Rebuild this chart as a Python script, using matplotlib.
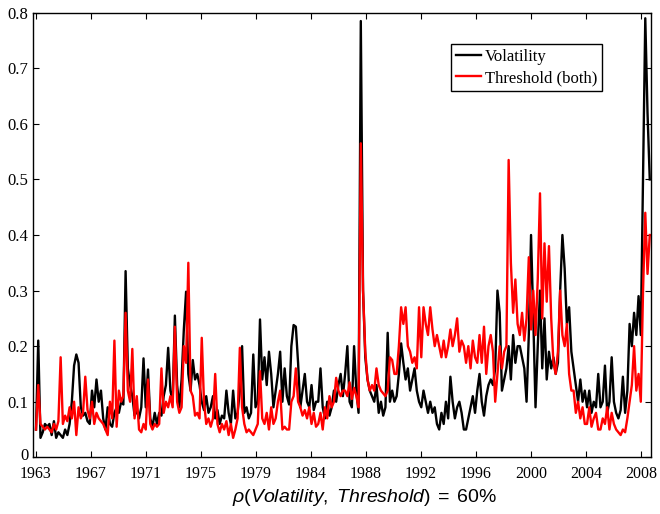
import numpy as np
import matplotlib
matplotlib.use("Agg")
import matplotlib.pyplot as plt
from matplotlib.transforms import ScaledTranslation

plt.rcParams['mathtext.fontset'] = 'custom'
plt.rcParams['mathtext.rm'] = 'Liberation Sans'
plt.rcParams['mathtext.it'] = 'Liberation Sans:italic'
plt.rcParams['mathtext.bf'] = 'Liberation Sans:bold'

# Bi-monthly samples, 6 per year starting 1963
volatility = [
    0.05, 0.21, 0.035, 0.045, 0.06, 0.055,      # 1963
    0.06, 0.04, 0.065, 0.035, 0.045, 0.04,      # 1964
    0.035, 0.05, 0.04, 0.06, 0.1, 0.165,        # 1965
    0.185, 0.17, 0.09, 0.075, 0.08, 0.065,      # 1966
    0.06, 0.12, 0.09, 0.14, 0.1, 0.12,          # 1967
    0.07, 0.05, 0.09, 0.06, 0.055, 0.08,        # 1968
    0.09, 0.08, 0.1, 0.095, 0.335, 0.16,        # 1969
    0.13, 0.11, 0.075, 0.085, 0.07, 0.09,       # 1970
    0.178, 0.09, 0.158, 0.07, 0.055, 0.08,      # 1971
    0.06, 0.08, 0.075, 0.11, 0.13, 0.197,       # 1972
    0.12, 0.1, 0.255, 0.13, 0.09, 0.14,         # 1973
    0.23, 0.298, 0.15, 0.12, 0.175, 0.14,       # 1974
    0.15, 0.13, 0.1, 0.085, 0.11, 0.08,         # 1975
    0.09, 0.11, 0.07, 0.085, 0.06, 0.075,       # 1976
    0.07, 0.12, 0.08, 0.06, 0.12, 0.07,         # 1977
    0.08, 0.12, 0.2, 0.08, 0.09, 0.07,          # 1978
    0.08, 0.185, 0.09, 0.1, 0.248, 0.14,        # 1979
    0.18, 0.13, 0.19, 0.15, 0.09, 0.12,         # 1980
    0.15, 0.19, 0.1, 0.16, 0.11, 0.095,         # 1981
    0.2, 0.238, 0.235, 0.17, 0.09, 0.12,        # 1982
    0.15, 0.1, 0.09, 0.13, 0.085, 0.1,          # 1983
    0.1, 0.16, 0.09, 0.07, 0.1, 0.075,          # 1984
    0.09, 0.12, 0.1, 0.13, 0.15, 0.11,          # 1985
    0.15, 0.2, 0.1, 0.09, 0.2, 0.12,            # 1986
    0.08, 0.785, 0.3, 0.18, 0.14, 0.12,         # 1987
    0.11, 0.1, 0.13, 0.08, 0.1, 0.075,          # 1988
    0.09, 0.224, 0.1, 0.12, 0.1, 0.11,          # 1989
    0.15, 0.205, 0.17, 0.14, 0.16, 0.12,        # 1990
    0.14, 0.16, 0.12, 0.1, 0.09, 0.12,          # 1991
    0.1, 0.08, 0.1, 0.08, 0.09, 0.06,           # 1992
    0.05, 0.08, 0.06, 0.1, 0.07, 0.145,         # 1993
    0.1, 0.07, 0.09, 0.1, 0.08, 0.05,           # 1994
    0.05, 0.07, 0.09, 0.11, 0.08, 0.12,         # 1995
    0.15, 0.1, 0.075, 0.11, 0.13, 0.14,         # 1996
    0.13, 0.16, 0.3, 0.26, 0.12, 0.14,          # 1997
    0.16, 0.2, 0.14, 0.22, 0.17, 0.2,           # 1998
    0.2, 0.18, 0.16, 0.1, 0.22, 0.4,            # 1999
    0.25, 0.09, 0.2, 0.3, 0.16, 0.25,           # 2000
    0.14, 0.19, 0.16, 0.18, 0.15, 0.17,         # 2001
    0.3, 0.4, 0.34, 0.24, 0.27, 0.19,           # 2002
    0.16, 0.13, 0.1, 0.14, 0.1, 0.12,           # 2003
    0.09, 0.12, 0.08, 0.1, 0.09, 0.15,          # 2004
    0.09, 0.1, 0.165, 0.08, 0.1, 0.18,          # 2005
    0.1, 0.08, 0.07, 0.085, 0.145, 0.08,        # 2006
    0.12, 0.24, 0.2, 0.26, 0.22, 0.29,          # 2007
    0.22, 0.5, 0.79, 0.62, 0.5,                 # 2008
]

threshold = [
    0.05, 0.13, 0.06, 0.055, 0.05, 0.055,       # 1963
    0.05, 0.045, 0.06, 0.05, 0.065, 0.18,       # 1964
    0.06, 0.075, 0.065, 0.09, 0.07, 0.1,        # 1965
    0.04, 0.09, 0.07, 0.08, 0.145, 0.085,       # 1966
    0.07, 0.1, 0.06, 0.08, 0.07, 0.065,         # 1967
    0.06, 0.05, 0.04, 0.1, 0.07, 0.21,          # 1968
    0.055, 0.12, 0.1, 0.11, 0.26, 0.12,         # 1969
    0.1, 0.195, 0.07, 0.11, 0.05, 0.045,        # 1970
    0.06, 0.05, 0.14, 0.06, 0.05, 0.06,         # 1971
    0.055, 0.06, 0.16, 0.08, 0.1, 0.09,         # 1972
    0.11, 0.09, 0.235, 0.1, 0.08, 0.09,         # 1973
    0.2, 0.17, 0.35, 0.12, 0.11, 0.075,         # 1974
    0.08, 0.07, 0.215, 0.1, 0.06, 0.07,         # 1975
    0.055, 0.07, 0.15, 0.06, 0.045, 0.06,       # 1976
    0.05, 0.065, 0.04, 0.06, 0.035, 0.05,       # 1977
    0.07, 0.197, 0.09, 0.06, 0.045, 0.05,       # 1978
    0.045, 0.04, 0.05, 0.06, 0.155, 0.07,       # 1979
    0.06, 0.08, 0.05, 0.09, 0.06, 0.07,         # 1980
    0.1, 0.12, 0.05, 0.055, 0.05, 0.05,         # 1981
    0.1, 0.11, 0.16, 0.1, 0.09, 0.075,          # 1982
    0.085, 0.07, 0.09, 0.06, 0.08, 0.055,       # 1983
    0.06, 0.08, 0.05, 0.09, 0.07, 0.11,         # 1984
    0.09, 0.1, 0.143, 0.12, 0.11, 0.12,         # 1985
    0.12, 0.11, 0.135, 0.105, 0.125, 0.11,      # 1986
    0.09, 0.565, 0.3, 0.19, 0.14, 0.12,         # 1987
    0.13, 0.12, 0.16, 0.13, 0.12, 0.115,        # 1988
    0.11, 0.12, 0.18, 0.175, 0.15, 0.15,        # 1989
    0.2, 0.27, 0.24, 0.27, 0.2, 0.19,           # 1990
    0.17, 0.18, 0.16, 0.27, 0.18, 0.27,         # 1991
    0.24, 0.22, 0.27, 0.23, 0.2, 0.22,          # 1992
    0.2, 0.18, 0.21, 0.18, 0.2, 0.23,           # 1993
    0.2, 0.22, 0.25, 0.19, 0.21, 0.2,           # 1994
    0.17, 0.2, 0.16, 0.21, 0.18, 0.17,          # 1995
    0.22, 0.17, 0.235, 0.15, 0.2, 0.22,         # 1996
    0.19, 0.1, 0.15, 0.2, 0.16, 0.19,           # 1997
    0.2, 0.535, 0.35, 0.26, 0.32, 0.24,         # 1998
    0.22, 0.26, 0.21, 0.25, 0.36, 0.23,         # 1999
    0.3, 0.22, 0.32, 0.475, 0.25, 0.385,        # 2000
    0.28, 0.38, 0.25, 0.17, 0.15, 0.19,         # 2001
    0.3, 0.22, 0.2, 0.24, 0.15, 0.12,           # 2002
    0.12, 0.08, 0.1, 0.07, 0.09, 0.06,          # 2003
    0.06, 0.09, 0.055, 0.07, 0.08, 0.05,        # 2004
    0.05, 0.07, 0.06, 0.09, 0.05, 0.08,         # 2005
    0.06, 0.05, 0.045, 0.04, 0.05, 0.045,       # 2006
    0.07, 0.1, 0.13, 0.2, 0.12, 0.15,           # 2007
    0.1, 0.3, 0.44, 0.33, 0.4,                  # 2008
]

tick_labels = ['1963', '1967', '1971', '1975', '1979', '1984',
               '1988', '1992', '1996', '2000', '2004', '2008']
ytick_vals = [0, 0.1, 0.2, 0.3, 0.4, 0.5, 0.6, 0.7, 0.8]
ytick_labels = ['0', '0.1', '0.2', '0.3', '0.4', '0.5', '0.6', '0.7', '0.8']

t = 1963 + np.arange(len(volatility)) / 6.0
tick_pos = 1963 + np.arange(len(tick_labels)) * 45.0 / 11.0

W, H = 660, 514
fig = plt.figure(figsize=(W / 100, H / 100), dpi=100)
left_px, right_px, top_px, bottom_px = 32.5, 650.7, 12.7, 457.3
ax = fig.add_axes([left_px / W, 1 - bottom_px / H,
                   (right_px - left_px) / W, (bottom_px - top_px) / H])

ax.plot(t, volatility, color='black', lw=1.7, label='Volatility')
ax.plot(t, threshold, color='#ff0000', lw=1.7, label='Threshold (both)')

px_per_year = 13.44
ax.set_xlim(1963 + (left_px - 36) / px_per_year, 1963 + (right_px - 36) / px_per_year)
ax.set_ylim(0, 0.8)

serif = 'Liberation Serif'
ax.set_xticks(tick_pos)
ax.set_xticklabels(tick_labels, fontfamily=serif, fontsize=11.5)
ax.set_yticks(ytick_vals)
ax.set_yticklabels(ytick_labels, fontfamily=serif, fontsize=12)
ax.tick_params(axis='both', direction='in', top=True, right=True, length=4, width=0.8)
ax.tick_params(axis='x', pad=6, colors='black')
ax.tick_params(axis='y', pad=3)
for s in ax.spines.values():
    s.set_linewidth(1.0)
    s.set_color('black')

# lift the "0" label slightly so it does not collide with the first year label
zero_lbl = ax.get_yticklabels()[0]
zero_lbl.set_transform(zero_lbl.get_transform() + ScaledTranslation(0, 3 / 100, fig.dpi_scale_trans))

leg = ax.legend(loc='upper right', bbox_to_anchor=(0.9217, 0.9296), borderaxespad=0,
                prop={'family': serif, 'size': 12}, fancybox=False, frameon=True,
                edgecolor='black', framealpha=1, handlelength=1.5, handletextpad=0.25,
                borderpad=0.3, labelspacing=0.3)
leg.get_frame().set_linewidth(1.0)

fig.text(365 / W, 1 - 497 / H,
         r'$\rho(\mathit{Volatility},\ \mathit{Threshold})\;=\;\mathrm{60\%}$',
         ha='center', va='center', fontsize=14)

fig.savefig('out.png', dpi=100)
